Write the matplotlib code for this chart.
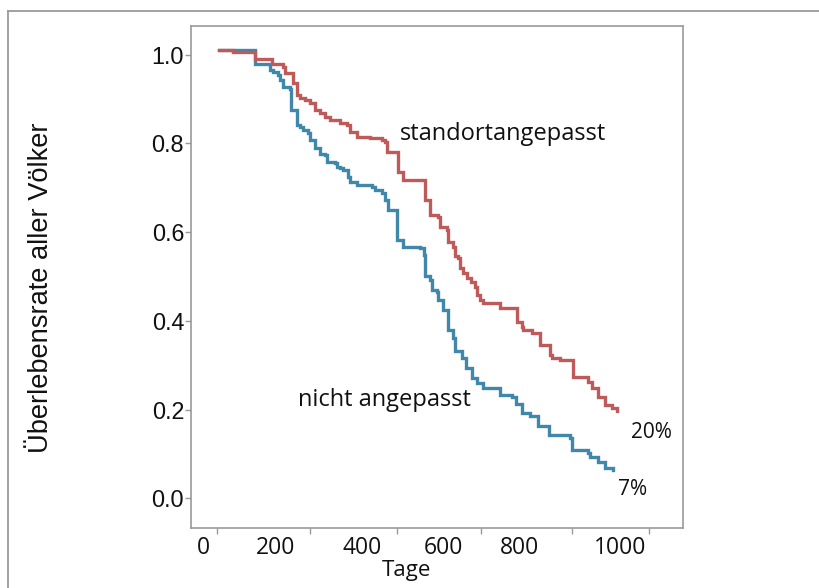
import matplotlib
matplotlib.use("Agg")
import matplotlib.pyplot as plt
from matplotlib.lines import Line2D
import matplotlib.transforms as mtransforms

# Kaplan-Meier style survival (days, fraction alive)
tage_std = [5, 38, 88, 128, 153, 158, 176, 185, 192, 204, 216, 227, 239, 250, 262,
            285, 301, 308, 324, 354, 382, 389, 393, 419, 420, 431, 481, 493, 512,
            516, 532, 535, 547, 551, 558, 562, 569, 579, 588, 597, 601, 609, 616,
            655, 693, 705, 709, 728, 747, 770, 775, 794, 824, 859, 867, 882, 898,
            914, 925]
rate_std = [1.010, 1.006, 0.989, 0.979, 0.973, 0.959, 0.935, 0.909, 0.902, 0.898,
            0.891, 0.875, 0.868, 0.859, 0.853, 0.845, 0.841, 0.826, 0.815, 0.811,
            0.807, 0.804, 0.780, 0.777, 0.736, 0.717, 0.672, 0.638, 0.635, 0.612,
            0.605, 0.578, 0.567, 0.545, 0.541, 0.518, 0.508, 0.497, 0.488, 0.476,
            0.458, 0.447, 0.440, 0.428, 0.398, 0.387, 0.380, 0.372, 0.346, 0.323,
            0.316, 0.312, 0.274, 0.263, 0.248, 0.229, 0.211, 0.203, 0.196]

tage_nicht = [5, 88, 124, 131, 142, 146, 154, 169, 171, 185, 193, 200, 212, 216,
              227, 239, 250, 254, 273, 277, 285, 293, 304, 308, 324, 359, 366, 382,
              389, 396, 416, 431, 470, 478, 482, 493, 497, 509, 512, 524, 535, 547,
              551, 566, 576, 589, 602, 616, 655, 682, 692, 705, 724, 743, 767, 817,
              821, 851, 859, 863, 882, 898, 917]
rate_nicht = [1.010, 0.978, 0.965, 0.961, 0.954, 0.943, 0.927, 0.922, 0.875, 0.841,
              0.837, 0.830, 0.823, 0.807, 0.789, 0.777, 0.774, 0.759, 0.755, 0.747,
              0.744, 0.740, 0.725, 0.713, 0.706, 0.702, 0.695, 0.687, 0.672, 0.649,
              0.582, 0.567, 0.564, 0.548, 0.500, 0.492, 0.470, 0.466, 0.447, 0.425,
              0.380, 0.361, 0.331, 0.316, 0.294, 0.271, 0.260, 0.248, 0.233, 0.229,
              0.213, 0.192, 0.186, 0.162, 0.143, 0.136, 0.109, 0.108, 0.102, 0.094,
              0.083, 0.068, 0.063]

x_labels = ['0', '200', '400', '600', '800', '1000']
y_ticks = [0.0, 0.2, 0.4, 0.6, 0.8, 1.0]

ROT = '#bf5a5a'
BLAU = '#3f88aa'
GRAU = '#9a9a9a'
SEGOE = ['Open Sans', 'DejaVu Sans']
ARIAL = ['Liberation Sans', 'DejaVu Sans']

fig = plt.figure(figsize=(8.19, 5.88), dpi=100)
ax = fig.add_axes([0.2332, 0.1026, 0.6004, 0.8537])

# step curves, standortangepasst on top
ax.step(tage_nicht, rate_nicht, where='post', color=BLAU, lw=2.4, zorder=2,
        solid_joinstyle='miter')
ax.step(tage_std, rate_std, where='post', color=ROT, lw=2.4, zorder=3,
        solid_joinstyle='miter')

ax.set_xlim(-59.4, 1077)
ax.set_ylim(-0.066, 1.065)

# the x ticks in the original are not evenly placed, labels sit left of them
tick_pos = [0, 215.7, 417.5, 610.3, 820.6, 1000]
label_pos = [-31, 137, 336, 525, 700, 932]
ax.set_xticks(tick_pos)
ax.set_xticklabels([])
trans = mtransforms.blended_transform_factory(ax.transData, ax.transAxes)
for xp, lab in zip(label_pos, x_labels):
    ax.text(xp, -0.0405, lab, transform=trans, ha='center', va='center',
            fontsize=16.5, family=SEGOE, color='#111111')
ax.text(0.439, -0.0852, 'Tage', transform=ax.transAxes, ha='center', va='center',
        fontsize=16, family=SEGOE, color='#111111')

ax.set_yticks(y_ticks)
ax.set_yticklabels(['%.1f' % v for v in y_ticks], family=ARIAL, fontsize=16.8,
                   color='#111111')
ax.tick_params(axis='both', direction='out', length=4, width=1, color=GRAU, pad=1)

for sp in ax.spines.values():
    sp.set_color(GRAU)
    sp.set_linewidth(1.2)

fig.text(0.0495, 0.510, 'Überlebensrate aller Völker', rotation=90, ha='center',
         va='center', fontsize=19.6, family=ARIAL, color='#111111')

# annotations
ax.text(423, 0.82, 'standortangepasst', fontsize=17, family=SEGOE, va='center',
        ha='left', color='#111111')
ax.text(188, 0.222, 'nicht angepasst', fontsize=17, family=SEGOE, va='center',
        ha='left', color='#111111')
ax.text(958, 0.149, '20%', fontsize=15, family=SEGOE, va='center', ha='left',
        color='#111111')
ax.text(927, 0.021, '7%', fontsize=15, family=SEGOE, va='center', ha='left',
        color='#111111')

# grey frame around the whole panel (only top and left visible)
fig.add_artist(Line2D([7.5 / 819, 7.5 / 819], [0, 1 - 11 / 588], color=GRAU, lw=1.3))
fig.add_artist(Line2D([7.5 / 819, 1], [1 - 11 / 588, 1 - 11 / 588], color=GRAU, lw=1.3))

fig.savefig('out.png', dpi=100)
